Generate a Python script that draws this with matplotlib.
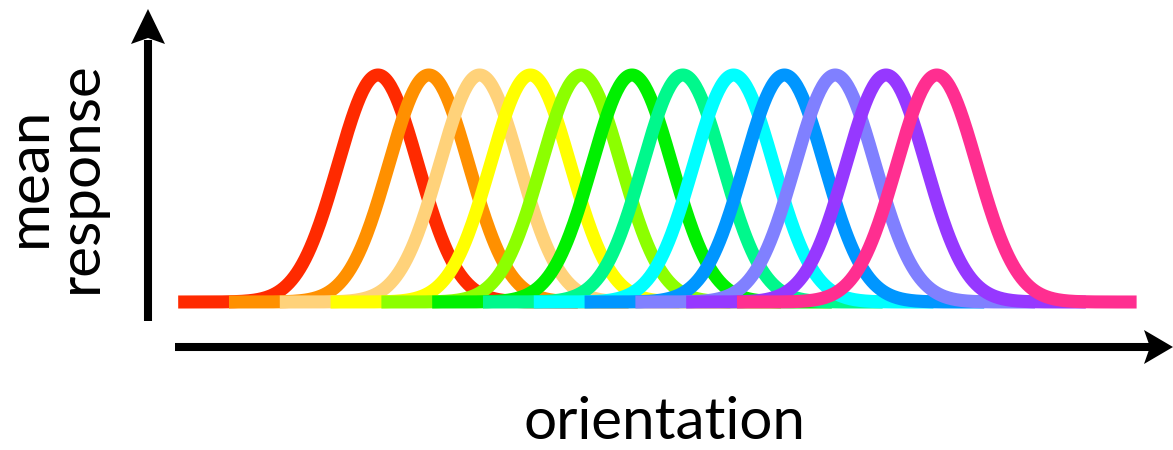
import numpy as np
import matplotlib
matplotlib.use("Agg")
import matplotlib.pyplot as plt
from matplotlib.patches import Polygon

# preferred orientation of each tuning curve (deg) and its colour
preferred = [0, 15, 30, 45, 60, 75, 90, 105, 120, 135, 150, 165]
colors = ["#FF2A00", "#FF9000", "#FFD27A", "#FFFF00", "#8CFF00", "#00F000",
          "#00F88C", "#00FFFF", "#0096FF", "#8080FF", "#9638FF", "#FF2E90"]
peak_response = [1.0] * 12
tuning_width = [11.8] * 12      # gaussian sigma, deg
span = [59] * 12                # each curve is drawn +/- this far from its peak

x_label = "orientation"
y_label = "mean\nresponse"

W, H, DPI = 1173, 450, 100
fig = plt.figure(figsize=(W / DPI, H / DPI), dpi=DPI)

# curves
ax = fig.add_axes([0, 0, 1, 1])
px_per_deg = 50.8 / 15
ax.set_xlim(-378 / px_per_deg, (W - 378) / px_per_deg)
ax.set_ylim((302 - H) / 227, 302 / 227)
ax.axis("off")

for pref, col, amp, sig, half in zip(preferred, colors, peak_response, tuning_width, span):
    x = np.linspace(pref - half, pref + half, 300)
    y = amp * np.exp(-0.5 * ((x - pref) / sig) ** 2)
    ax.plot(x, y, color=col, lw=9.4, solid_capstyle="butt", solid_joinstyle="round")

# axis arrows, drawn in pixel coords on an overlay
deco = fig.add_axes([0, 0, 1, 1], zorder=3)
deco.set_xlim(0, W)
deco.set_ylim(H, 0)
deco.axis("off")
deco.patch.set_alpha(0)

deco.plot([148, 148], [321, 40], color="k", lw=5.8, solid_capstyle="butt")
deco.add_patch(Polygon([(148, 9), (165, 44), (148, 38), (131, 44)], closed=True,
                       color="k", lw=0))
deco.plot([175, 1150], [347, 347], color="k", lw=5.8, solid_capstyle="butt")
deco.add_patch(Polygon([(1173, 347), (1144, 364), (1150, 347), (1144, 330)], closed=True,
                       color="k", lw=0))

font = ["Lato", "DejaVu Sans"]
deco.text(665, 439, x_label, ha="center", va="baseline", fontsize=42, family=font)
deco.text(107, 177, y_label, ha="right", va="center", rotation=90, fontsize=42,
          family=font, multialignment="center", linespacing=0.95)

fig.savefig("out.png", dpi=DPI)
